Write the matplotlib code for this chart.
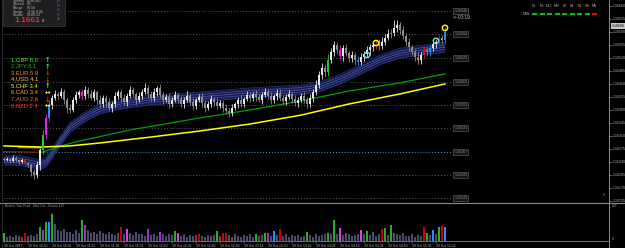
import numpy as np
import matplotlib
matplotlib.use('Agg')
import matplotlib.pyplot as plt
from matplotlib.patches import Rectangle
from matplotlib.ticker import FuncFormatter

plt.rcParams['font.family'] = ['Liberation Sans', 'DejaVu Sans']

# --- price data, in points above 1.16000 (1 point = 0.00001) ---
close_pts = [245, 248, 243, 251, 245, 240, 245, 237, 232, 213,
             205, 232, 272, 313, 358, 393, 412, 423, 418, 428,
             407, 385, 380, 407, 420, 428, 418, 434, 423, 412,
             428, 407, 396, 412, 401, 385, 396, 418, 428, 412,
             401, 418, 434, 423, 407, 418, 428, 439, 423, 412,
             428, 439, 420, 407, 415, 396, 407, 420, 409, 396,
             407, 418, 401, 391, 407, 415, 399, 385, 396, 409,
             401, 391, 399, 385, 377, 372, 385, 396, 407, 396,
             409, 420, 412, 423, 415, 407, 420, 428, 418, 407,
             418, 426, 412, 404, 415, 423, 409, 399, 407, 418,
             407, 396, 412, 428, 447, 474, 493, 482, 514, 536,
             555, 541, 525, 547, 533, 520, 528, 514, 509, 523,
             531, 541, 549, 555, 558, 552, 563, 574, 584, 587,
             601, 609, 595, 579, 563, 549, 536, 523, 514, 528,
             541, 536, 547, 558, 563, 574, 568, 590]
wick_up = [4, 6, 3, 8, 5, 4, 6, 5, 3, 6,
           8, 10, 6, 12, 10, 14, 8, 10, 6, 12,
           9, 7, 10, 8, 12, 6, 9, 11, 7, 10,
           8, 6, 12, 9, 7, 11, 8, 10, 6, 9,
           12, 7, 10, 8, 6, 11, 9, 13, 7, 8,
           10, 6, 12, 9, 7, 10, 8, 11, 6, 9,
           7, 12, 8, 10, 6, 9, 11, 7, 8, 10,
           6, 12, 9, 7, 11, 8, 10, 6, 9, 12,
           7, 10, 8, 6, 11, 9, 7, 12, 8, 10,
           6, 9, 11, 7, 8, 10, 6, 12, 9, 7,
           10, 8, 11, 9, 14, 10, 12, 9, 16, 12,
           10, 8, 14, 9, 11, 7, 10, 8, 12, 9,
           7, 11, 8, 10, 9, 12, 14, 10, 15, 12,
           20, 14, 9, 11, 8, 10, 7, 9, 12, 8,
           10, 9, 7, 11, 8, 10, 9, 14]
wick_dn = [5, 3, 7, 4, 6, 5, 4, 8, 6, 10,
           12, 8, 14, 10, 12, 8, 10, 6, 9, 7,
           10, 12, 8, 6, 9, 7, 11, 8, 10, 6,
           7, 11, 9, 8, 12, 6, 10, 7, 9, 11,
           8, 10, 6, 9, 12, 7, 8, 6, 10, 9,
           7, 11, 8, 10, 6, 12, 9, 7, 10, 8,
           11, 6, 9, 12, 8, 7, 10, 11, 6, 9,
           10, 8, 7, 11, 9, 12, 8, 6, 10, 7,
           9, 6, 11, 8, 10, 7, 12, 6, 9, 11,
           8, 10, 7, 9, 12, 6, 10, 8, 11, 7,
           9, 12, 8, 10, 7, 9, 11, 14, 10, 8,
           12, 10, 9, 14, 8, 11, 10, 12, 9, 7,
           10, 8, 12, 9, 11, 10, 8, 9, 7, 10,
           8, 12, 10, 9, 11, 10, 9, 12, 10, 11,
           9, 12, 10, 8, 11, 9, 10, 7]
candle_hl = {7: 'r', 13: 'g', 14: 'm', 15: 'b', 26: 'm', 108: 'g', 112: 'm',
             118: 'b', 124: 'r', 129: 'g', 140: 'r', 141: 'g', 142: 'b',
             145: 'r', 147: 'b'}

tick_volume = [85, 45, 55, 40, 60, 50, 45, 85, 55, 65,
               50, 70, 150, 118, 205, 200, 290, 180, 120, 110,
               130, 95, 100, 80, 115, 90, 225, 170, 120, 90,
               100, 75, 110, 85, 70, 95, 80, 60, 90, 147,
               70, 125, 85, 60, 95, 70, 80, 55, 125, 65,
               75, 50, 100, 70, 55, 80, 60, 107, 85, 55,
               70, 45, 65, 50, 60, 75, 55, 40, 60, 50,
               65, 110, 55, 82, 82, 60, 45, 70, 55, 40,
               60, 50, 70, 45, 80, 55, 65, 85, 90, 50,
               107, 60, 128, 55, 70, 45, 60, 50, 65, 45,
               55, 92, 60, 45, 70, 55, 65, 80, 88, 75,
               225, 70, 135, 60, 90, 75, 55, 65, 70, 118,
               80, 107, 60, 95, 50, 70, 125, 142, 60, 171,
               90, 75, 60, 85, 55, 50, 70, 45, 60, 55,
               146, 85, 60, 118, 70, 150, 160, 146]
volume_hl = {0: 'g', 7: 'r', 12: 'g', 13: 'p', 14: 'g', 15: 'b', 16: 'g', 26: 'g',
             27: 'p', 39: 'r', 41: 'm', 48: 'p', 52: 'p', 57: 'g', 58: 'm', 65: 'r',
             71: 'g', 73: 'r', 74: 'r', 84: 'g', 87: 'g', 88: 'p', 90: 'b', 92: 'r',
             101: 'g', 108: 'g', 110: 'g', 112: 'm', 119: 'm', 121: 'g', 126: 'r',
             127: 'g', 129: 'g', 140: 'r', 141: 'g', 143: 'b', 145: 'g', 146: 'r',
             147: 'b'}

# moving averages (bar index, points)
ribbon_idx = [0, 5, 9, 12, 14, 16, 19, 22, 27, 32, 39, 49, 65, 82, 99, 105, 112, 119, 125, 132, 139, 147]
ribbon_pts = [245, 244, 238, 232, 240, 262, 300, 333, 362, 383, 396, 407, 415, 426, 434, 442, 463, 490, 514, 533, 541, 549]
green_idx = [12, 19, 25, 42, 65, 82, 99, 115, 132, 147]
green_pts = [264, 283, 296, 326, 358, 380, 404, 431, 453, 477]
yellow_idx = [0, 12, 22, 32, 49, 65, 82, 99, 115, 132, 147]
yellow_pts = [283, 280, 283, 291, 307, 323, 342, 366, 396, 423, 450]
olive_idx = [5, 12]
olive_pts = [280, 279]
red_idx = [0, 12]
red_pts = [268, 266]

signal_idx = [121, 124, 144, 147]
signal_pts = [528, 560, 566, 601]
signal_kind = ['cyan', 'yellow', 'cyan', 'yellow']

level_pts = [646, 584, 520, 455, 393, 331, 267, 205, 143]
level_kind = ['gray', 'gray', 'gray', 'gray', 'gray', 'gray', 'cyan', 'teal', 'gray']

axis_ticks = list(range(660, 130, -35))
last_price_pts = 606
date_labels = ['30 Oct 2017', '30 Oct 10:50', '30 Oct 11:06', '30 Oct 11:22', '30 Oct 11:38',
               '30 Oct 11:54', '30 Oct 12:10', '30 Oct 12:26', '30 Oct 12:42', '30 Oct 12:58',
               '30 Oct 13:14', '30 Oct 13:30', '30 Oct 13:46', '30 Oct 14:02', '30 Oct 14:18',
               '30 Oct 14:34', '30 Oct 14:50', '30 Oct 15:06', '30 Oct 15:22']

currencies = ['1.GBP', '2.JPY', '3.EUR', '4.USD', '5.CHF', '6.CAD', '7.AUD', '8.NZD']
strength = [8.0, 6.1, 5.9, 4.1, 3.4, 3.4, 2.6, 2.4]
trend = ['up', 'up', 'down', 'down', 'up', 'flat', 'down', 'flat']

info_rows = [('Symbol', 'EURUSD'), ('Spread', '0.5'), ('Range', '88.5h'),
             ('Swaps', '-0.5h 0.0h'), ('Candle', '00:00:13')]
bid_text = '1.1661'
tf_names = ['M1', 'M5', 'M15', 'M30', 'H1', 'H4', 'D1', 'W1', 'MN']
tf_state = ['up', 'up', 'up', 'up', 'up', 'up', 'up', 'up', 'down']

# --- styles ---
hl_colors = {'g': '#22c822', 'b': '#1e90ff', 'm': '#e020e0', 'r': '#dd1111', 'p': '#9a30d0'}
vol_colors = {'g': '#2fa82f', 'b': '#1e90ff', 'm': '#e040e0', 'r': '#cc0000', 'p': '#9a30d0'}
sig_colors = {'cyan': '#6fe0e0', 'yellow': '#ffff00'}
lvl_colors = {'gray': '#5a5a5a', 'cyan': '#3aa6c8', 'teal': '#2e6e6e'}
cur_colors = ['#33ff33', '#2ea82e', '#ff8c1a', '#ffd24d', '#ffff33', '#ffa64d', '#ff6633', '#ff3333']
arrow_sym = {'up': '↑', 'down': '↓', 'flat': '↔'}
arrow_col = {'up': '#33ff33', 'down': '#ff2020', 'flat': '#ffff33'}
GRAY = '#9a9a9a'

W, H = 625, 248


def px_rect(x0, y0, x1, y1):
    return [x0 / W, 1 - y1 / H, (x1 - x0) / W, (y1 - y0) / H]


fig = plt.figure(figsize=(6.25, 2.48), dpi=100, facecolor='black')
ax = fig.add_axes(px_rect(3, 0, 609, 202))
axv = fig.add_axes(px_rect(3, 203, 609, 241), sharex=ax)
ov = fig.add_axes([0, 0, 1, 1], zorder=10)
ov.set_xlim(0, W)
ov.set_ylim(H, 0)
ov.axis('off')
ov.patch.set_visible(False)

for a in (ax, axv):
    a.set_facecolor('black')
    for s in a.spines.values():
        s.set_visible(False)

# main chart
ax.set_xlim(-1 / 3, 201.67)
ax.set_ylim(132, 676)
n = len(close_pts)
idx = np.arange(n)
close = np.array(close_pts, dtype=float)
open_ = np.r_[close[0] + 3, close[:-1]]
high = np.maximum(open_, close) + np.array(wick_up)
low = np.minimum(open_, close) - np.array(wick_dn)
cols = ['#e6e6e6' if c >= o else '#8c8c8c' for o, c in zip(open_, close)]
for i, k in candle_hl.items():
    cols[i] = hl_colors[k]

for lv, k in zip(level_pts, level_kind):
    ax.hlines(lv, -0.3, 149.3, colors=lvl_colors[k], lw=0.7, linestyles=(0, (1, 2)), zorder=1)
    ax.text(152.3, lv, f'{1.16 + lv / 1e5:.5f}', fontsize=2.6, color='#8a8a8a',
            ha='center', va='center', zorder=6,
            bbox=dict(boxstyle='square,pad=0.3', fc='#151515', ec='#6a6a6a', lw=0.4))

rib_x = np.array(ribbon_idx)
rib_y = np.array(ribbon_pts, dtype=float)
ax.fill_between(rib_x, rib_y - 13, rib_y + 13, color='#161c52', lw=0, zorder=2)
for off, c in [(-13, '#2e3a80'), (13, '#2e3a80'), (-6, '#4a56a0'), (0, '#5c66ac'), (6, '#4a56a0')]:
    ax.plot(rib_x, rib_y + off, color=c, lw=0.45, zorder=2.1)

ax.plot(olive_idx, olive_pts, color='#8a8a00', lw=1.6, zorder=2.2)
ax.plot(red_idx, red_pts, color='#a01010', lw=0.8, zorder=2.2)
ax.plot(green_idx, green_pts, color='#00a000', lw=0.9, zorder=2.3)
ax.plot(yellow_idx, yellow_pts, color='#ffff00', lw=1.1, zorder=2.3)

ax.vlines(idx, low, high, colors=cols, lw=0.6, zorder=3)
body = np.maximum(np.abs(close - open_), 1.5)
ax.bar(idx, body, bottom=np.minimum(open_, close), width=0.55, color=cols, lw=0, zorder=3.1)

ax.scatter(signal_idx, signal_pts, s=15, facecolors='none',
           edgecolors=[sig_colors[k] for k in signal_kind], lw=1.0, zorder=4)

ax.yaxis.tick_right()
ax.set_yticks(axis_ticks)
ax.yaxis.set_major_formatter(FuncFormatter(lambda v, _: f'{1.16 + v / 1e5:.5f}'))
ax.tick_params(axis='y', colors='#808080', labelcolor='#b0b0b0', length=2, width=0.5,
               labelsize=2.6, pad=1)
ax.tick_params(axis='x', bottom=False, labelbottom=False)
ax.text(1.004, last_price_pts, f'{1.16 + last_price_pts / 1e5:.5f}', transform=ax.get_yaxis_transform(),
        fontsize=2.6, color='black', va='center', ha='left', zorder=8,
        bbox=dict(boxstyle='square,pad=0.25', fc='#c8c8c8', ec='none'), clip_on=False)
ax.text(149.7, 630, '<--00:19', fontsize=3.4, color='#c8c8c8', va='center', ha='left')

# tick volume panel
vcols = ['#4a4a6a'] * n
for i, k in volume_hl.items():
    vcols[i] = vol_colors[k]
axv.bar(idx, tick_volume, width=0.5, color=vcols, lw=0)
axv.set_ylim(0, 407)
axv.set_yticks([])
axv.spines['bottom'].set_visible(True)
axv.spines['bottom'].set_color('#808080')
axv.spines['bottom'].set_linewidth(0.6)
axv.set_xticks(idx[::8])
axv.set_xticklabels(date_labels)
axv.tick_params(axis='x', colors='#808080', labelcolor='#b0b0b0', length=1.5, width=0.4,
                labelsize=2.4, pad=0.8)
for lbl in axv.get_xticklabels():
    lbl.set_ha('left')

# frame lines
ov.plot([609, 609], [0, H], color='#8a8a8a', lw=0.7)
ov.plot([0, W], [202.5, 202.5], color='#8a8a8a', lw=0.8)
ov.plot([1.5, 1.5], [0, H], color='#3a3a3a', lw=0.5)
ov.text(5, 206, 'Broker Tick Pro4   Mail On.  Count: 137', fontsize=2.4, color=GRAY, va='center')
ov.text(612, 206, '407', fontsize=2.4, color='#b0b0b0', va='center')
ov.text(612, 239, '0', fontsize=2.4, color='#b0b0b0', va='center')
ov.text(603, 195, '8', fontsize=2.6, color='#8a8a8a', va='center')

# info box
ov.add_patch(Rectangle((3, -1), 62, 27, fc='#1e1e1e', ec='#3c3c3c', lw=0.5))
for k, (name, val) in enumerate(info_rows):
    y = 0.6 + 3.7 * k
    ov.text(13, y, name, fontsize=2.5, color='#b8b8b8', va='center')
    ov.text(27, y, val, fontsize=2.5, color='#b8b8b8', va='center')
ov.text(14, 21, bid_text, fontsize=6, color='#ff2020', fontweight='bold', va='center')
ov.text(42, 21.5, '6', fontsize=3.2, color='#d0d0d0', va='center')
for k, ch in enumerate('PUSRA'):
    ov.text(58, 2 + 4.2 * k, ch, fontsize=3.2, color='#5a5ad0', va='center', ha='center')

# currency strength list
for k, (cur, val, tr) in enumerate(zip(currencies, strength, trend)):
    y = 60 + 6.6 * k
    ov.text(11, y, f'{cur} {val:.1f}', fontsize=4.2, color=cur_colors[k], va='center')
    ov.text(45, y, arrow_sym[tr], fontsize=4.8, color=arrow_col[tr], va='center',
            fontweight='bold', family=['DejaVu Sans'])

# timeframe trend panel
for k, (tf, st) in enumerate(zip(tf_names, tf_state)):
    x0 = 532 + 7.5 * k
    ov.text(x0 + 2.5, 6, tf, fontsize=2.3, color='#b0b0b0', va='center', ha='center')
    ov.plot([x0, x0 + 5], [14, 14], color='#00dd00' if st == 'up' else '#ee1111', lw=1.3,
            solid_capstyle='butt')
ov.text(530, 14, 'CAN', fontsize=2.5, color='#b0b0b0', va='center', ha='right')

fig.savefig('out.png', dpi=100, facecolor='black')
